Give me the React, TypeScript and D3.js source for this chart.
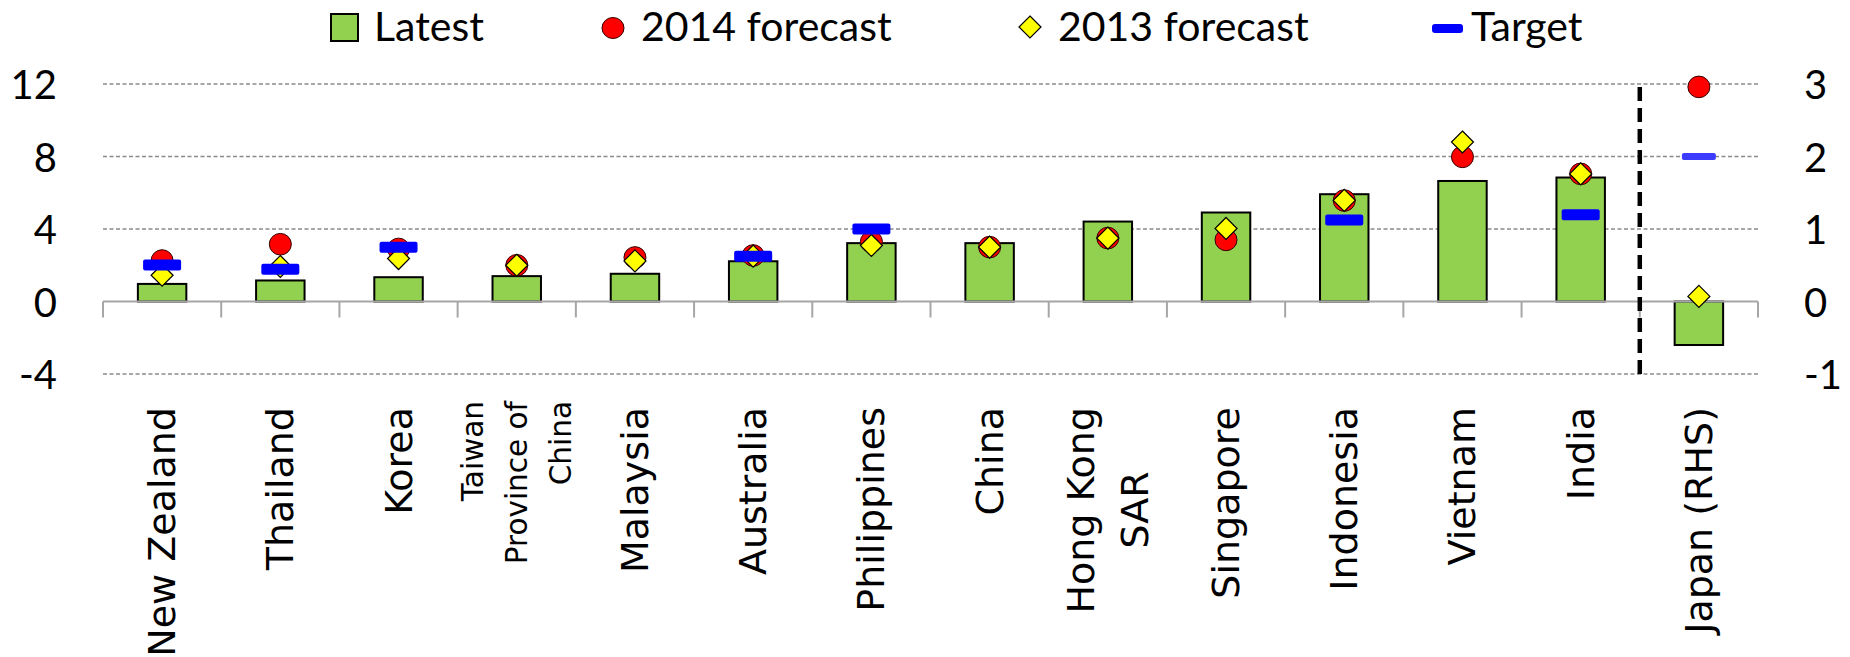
import React from 'react';
import * as d3 from 'd3';

// values (left axis %, Japan on the right axis)
const categories = ['New Zealand', 'Thailand', 'Korea', 'Taiwan Province of China', 'Malaysia', 'Australia',
  'Philippines', 'China', 'Hong Kong SAR', 'Singapore', 'Indonesia', 'Vietnam', 'India', 'Japan (RHS)'];
const labelLines = [['New Zealand'], ['Thailand'], ['Korea'], ['Taiwan', 'Province of', 'China'], ['Malaysia'],
  ['Australia'], ['Philippines'], ['China'], ['Hong Kong', 'SAR'], ['Singapore'], ['Indonesia'], ['Vietnam'],
  ['India'], ['Japan (RHS)']];
const latest = [0.97, 1.16, 1.34, 1.4, 1.53, 2.22, 3.22, 3.22, 4.41, 4.91, 5.92, 6.65, 6.84, -0.6];
const forecast2014 = [2.26, 3.16, 2.9, 2.0, 2.43, 2.54, 3.3, 3.0, 3.5, 3.4, 5.57, 7.98, 7.04, 2.96];
const forecast2013 = [1.45, 1.93, 2.37, 2.0, 2.24, 2.5, 3.09, 3.0, 3.5, 4.03, 5.58, 8.8, 7.04, 0.07];
const target: (number | null)[] = [2.02, 1.78, 3.0, null, null, 2.5, 4.0, null, null, null, 4.5, null, 4.78, 2.0];
const rhs = [false, false, false, false, false, false, false, false, false, false, false, false, false, true];
const leftTicks = [-4, 0, 4, 8, 12];
const rightTicks = [-1, 0, 1, 2, 3];

const W = 1850, H = 657;
const NUM_FONT = 'Lato, "Open Sans", sans-serif';
const CAT_FONT = '"DejaVu Sans", Verdana, sans-serif';

export default function App() {
  const x = d3.scaleBand<string>().domain(categories).range([103, 1758]).paddingInner(0).paddingOuter(0);
  const yL = d3.scaleLinear().domain([-4, 12]).range([374, 84]);
  const yR = d3.scaleLinear().domain([-1, 3]).range([374, 84]);
  const bw = x.bandwidth() * 0.41;
  const yOf = (i: number) => (rhs[i] ? yR : yL);
  const cx = (c: string) => (x(c) as number) + x.bandwidth() / 2;
  const diamond = (px: number, py: number, r: number) => `M${px},${py - r}L${px + r},${py}L${px},${py + r}L${px - r},${py}Z`;
  const y0 = yL(0);
  const boundaries = d3.range(categories.length + 1).map(i => 103 + i * x.bandwidth());

  return (
    <div style={{ position: 'absolute', left: 0, top: 0 }}>
      <svg width={W} height={H} style={{ display: 'block', background: '#fff' }}>
        {/* gridlines */}
        {leftTicks.filter(t => t !== 0).map(t => (
          <line key={t} x1={103} x2={1758} y1={yL(t)} y2={yL(t)} stroke="#8a8a8a" strokeWidth={1.6} strokeDasharray="4,2.5" />
        ))}
        {/* axis labels */}
        {leftTicks.map(t => (
          <text key={'l' + t} x={57} y={yL(t)} textAnchor="end" dominantBaseline="central" fontFamily={NUM_FONT} fontSize={40}>{t}</text>
        ))}
        {rightTicks.map(t => (
          <text key={'r' + t} x={1804} y={yR(t)} textAnchor="start" dominantBaseline="central" fontFamily={NUM_FONT} fontSize={40}>{t}</text>
        ))}
        {/* bars */}
        {categories.map((c, i) => {
          const yy = yOf(i)(latest[i]);
          return (
            <rect key={c} x={cx(c) - bw / 2} width={bw} y={Math.min(yy, y0)} height={Math.abs(y0 - yy)}
              fill="#92D050" stroke="#000" strokeWidth={2} />
          );
        })}
        {/* zero axis + ticks */}
        <line x1={103} x2={1758} y1={y0} y2={y0} stroke="#a6a6a6" strokeWidth={2} />
        {boundaries.map((b, i) => (
          <line key={'t' + i} x1={b} x2={b} y1={y0} y2={y0 + 16} stroke="#a6a6a6" strokeWidth={2} />
        ))}
        {/* separator */}
        <line x1={boundaries[13]} x2={boundaries[13]} y1={87} y2={378} stroke="#000" strokeWidth={4.5} strokeDasharray="14,7" />
        {/* 2014 forecast */}
        {categories.map((c, i) => (
          <ellipse key={'f14' + c} cx={cx(c)} cy={yOf(i)(forecast2014[i])} rx={11} ry={10.8} fill="#FF0000" stroke="#300" strokeWidth={1} />
        ))}
        {/* 2013 forecast */}
        {categories.map((c, i) => (
          <path key={'f13' + c} d={diamond(cx(c), yOf(i)(forecast2013[i]), 11)} fill="#FFFF00" stroke="#000" strokeWidth={1.2} />
        ))}
        {/* target */}
        {categories.map((c, i) => {
          const t = target[i];
          if (t === null) return null;
          const h = rhs[i] ? 7 : 11;
          const w = rhs[i] ? 34 : 38;
          return (
            <rect key={'tg' + c} x={cx(c) - w / 2} y={yOf(i)(t) - h / 2} width={w} height={h} rx={2}
              fill={rhs[i] ? '#3c3cff' : '#0000FF'} />
          );
        })}
        {/* category labels */}
        {categories.map((c, i) => {
          const lines = labelLines[i];
          const px = cx(c);
          if (lines.length === 3) {
            return lines.map((l, k) => (
              <text key={c + k} transform={`translate(${px + (k - 1) * 44},401) rotate(-90)`} textAnchor="end"
                dominantBaseline="central" fontFamily={CAT_FONT} fontSize={29.5}>{l}</text>
            ));
          }
          if (lines.length === 2) {
            return (
              <g key={c}>
                <text transform={`translate(${px - 27},407) rotate(-90)`} textAnchor="end" dominantBaseline="central"
                  fontFamily={CAT_FONT} fontSize={38}>{lines[0]}</text>
                <text transform={`translate(${px + 27},510) rotate(-90)`} textAnchor="middle" dominantBaseline="central"
                  fontFamily={CAT_FONT} fontSize={38}>{lines[1]}</text>
              </g>
            );
          }
          return (
            <text key={c} transform={`translate(${px},407) rotate(-90)`} textAnchor="end" dominantBaseline="central"
              fontFamily={CAT_FONT} fontSize={38}>{lines[0]}</text>
          );
        })}
        {/* legend */}
        <rect x={331} y={14} width={27} height={27} fill="#92D050" stroke="#000" strokeWidth={2} />
        <text x={374} y={41} fontFamily={NUM_FONT} fontSize={41}>Latest</text>
        <ellipse cx={613} cy={28} rx={11} ry={10.5} fill="#FF0000" stroke="#300" strokeWidth={1} />
        <text x={641} y={41} fontFamily={NUM_FONT} fontSize={41}>2014 forecast</text>
        <path d={diamond(1030, 27, 11)} fill="#FFFF00" stroke="#000" strokeWidth={1.2} />
        <text x={1058} y={41} fontFamily={NUM_FONT} fontSize={41}>2013 forecast</text>
        <rect x={1432} y={24} width={31} height={9} rx={3} fill="#0000FF" />
        <text x={1471} y={41} fontFamily={NUM_FONT} fontSize={41}>Target</text>
      </svg>
    </div>
  );
}
